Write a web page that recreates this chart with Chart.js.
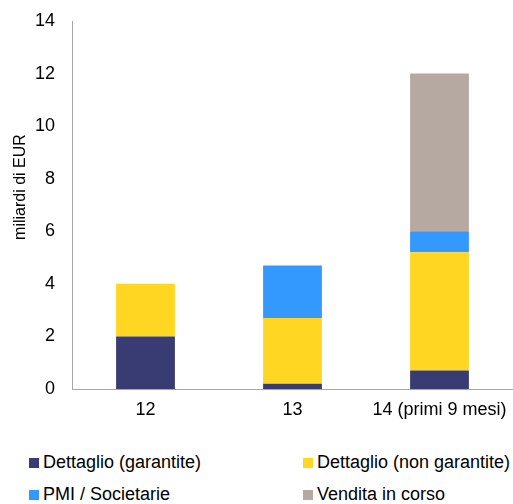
<!DOCTYPE html>
<html lang="it">
<head>
<meta charset="UTF-8">
<title>Sofferenze per tipologia</title>
<script src="https://cdn.jsdelivr.net/npm/chart.js"></script>
<style>
    html, body { margin: 0; padding: 0; background: #fff; }
    #wrap { position: relative; width: 513px; height: 504px; font-family: "Liberation Sans", Arial, sans-serif; }
    #chart-box { position: absolute; left: 0; top: 0; width: 513px; height: 430px; }
    .leg { position: absolute; font-size: 18px; color: #000; white-space: nowrap; line-height: 20px; }
    .leg span { display: inline-block; width: 10px; height: 10px; margin-right: 4px; vertical-align: baseline; }
</style>
</head>
<body>
<div id="wrap">
    <div id="chart-box"><canvas id="c"></canvas></div>
    <div id="legend"></div>
</div>
<script>
// dati (miliardi di EUR)
const categories = ['12', '13', '14 (primi 9 mesi)'];
const seriesNames = ['Dettaglio (garantite)', 'Dettaglio (non garantite)', 'PMI / Societarie', 'Vendita in corso'];
const dettaglioGarantite = [2.0, 0.2, 0.7];
const dettaglioNonGarantite = [2.0, 2.5, 4.5];
const pmiSocietarie = [0, 2.0, 0.8];
const venditaInCorso = [0, 0, 6.0];
const yTicks = [0, 2, 4, 6, 8, 10, 12, 14];
const yTitle = 'miliardi di EUR';

const colors = ['#383C72', '#FFD622', '#3399FF', '#B6A9A1'];
const values = [dettaglioGarantite, dettaglioNonGarantite, pmiSocietarie, venditaInCorso];

const FONT = '"Liberation Sans", Arial, sans-serif';
Chart.defaults.font.family = FONT;
Chart.defaults.color = '#000';

// titolo asse Y un po' sopra il centro, come nell'originale
const yTitlePlugin = {
    id: 'yTitle',
    afterDraw(chart) {
        const ctx = chart.ctx;
        ctx.save();
        ctx.translate(25, 187);
        ctx.rotate(-Math.PI / 2);
        ctx.font = '16px ' + FONT;
        ctx.fillStyle = '#000';
        ctx.textAlign = 'center';
        ctx.textBaseline = 'alphabetic';
        ctx.fillText(yTitle, 0, 0);
        ctx.restore();
    }
};

new Chart(document.getElementById('c'), {
    type: 'bar',
    data: {
        labels: categories,
        datasets: seriesNames.map((name, i) => ({
            label: name,
            data: values[i],
            backgroundColor: colors[i],
            borderWidth: 0,
            barPercentage: 0.4,
            categoryPercentage: 1
        }))
    },
    options: {
        responsive: true,
        maintainAspectRatio: false,
        animation: false,
        layout: { padding: { top: 21, right: 0, bottom: 0, left: 0 } },
        plugins: { legend: { display: false }, tooltip: { enabled: false } },
        scales: {
            x: {
                stacked: true,
                grid: { display: false, drawTicks: false },
                border: { color: '#A6A6A6', width: 1 },
                ticks: { font: { size: 18 }, padding: 10, maxRotation: 0 },
                afterFit: s => { s.height = 41; s.paddingLeft = 0; s.paddingRight = 0; }
            },
            y: {
                stacked: true,
                min: 0,
                max: 14,
                afterBuildTicks: s => { s.ticks = yTicks.map(v => ({ value: v })); },
                grid: { display: false, drawTicks: false },
                border: { color: '#A6A6A6', width: 1 },
                ticks: { font: { size: 18 }, padding: 17 },
                afterFit: s => { s.width = 72; s.paddingTop = 0; s.paddingBottom = 0; }
            }
        }
    },
    plugins: [yTitlePlugin]
});

// legenda a due colonne
const legPos = [[29, 452], [303, 452], [29, 484], [303, 484]];
const legend = document.getElementById('legend');
seriesNames.forEach((name, i) => {
    const d = document.createElement('div');
    d.className = 'leg';
    d.style.left = legPos[i][0] + 'px';
    d.style.top = legPos[i][1] + 'px';
    d.innerHTML = '<span style="background:' + colors[i] + '"></span>' + name;
    legend.appendChild(d);
});
</script>
</body>
</html>
